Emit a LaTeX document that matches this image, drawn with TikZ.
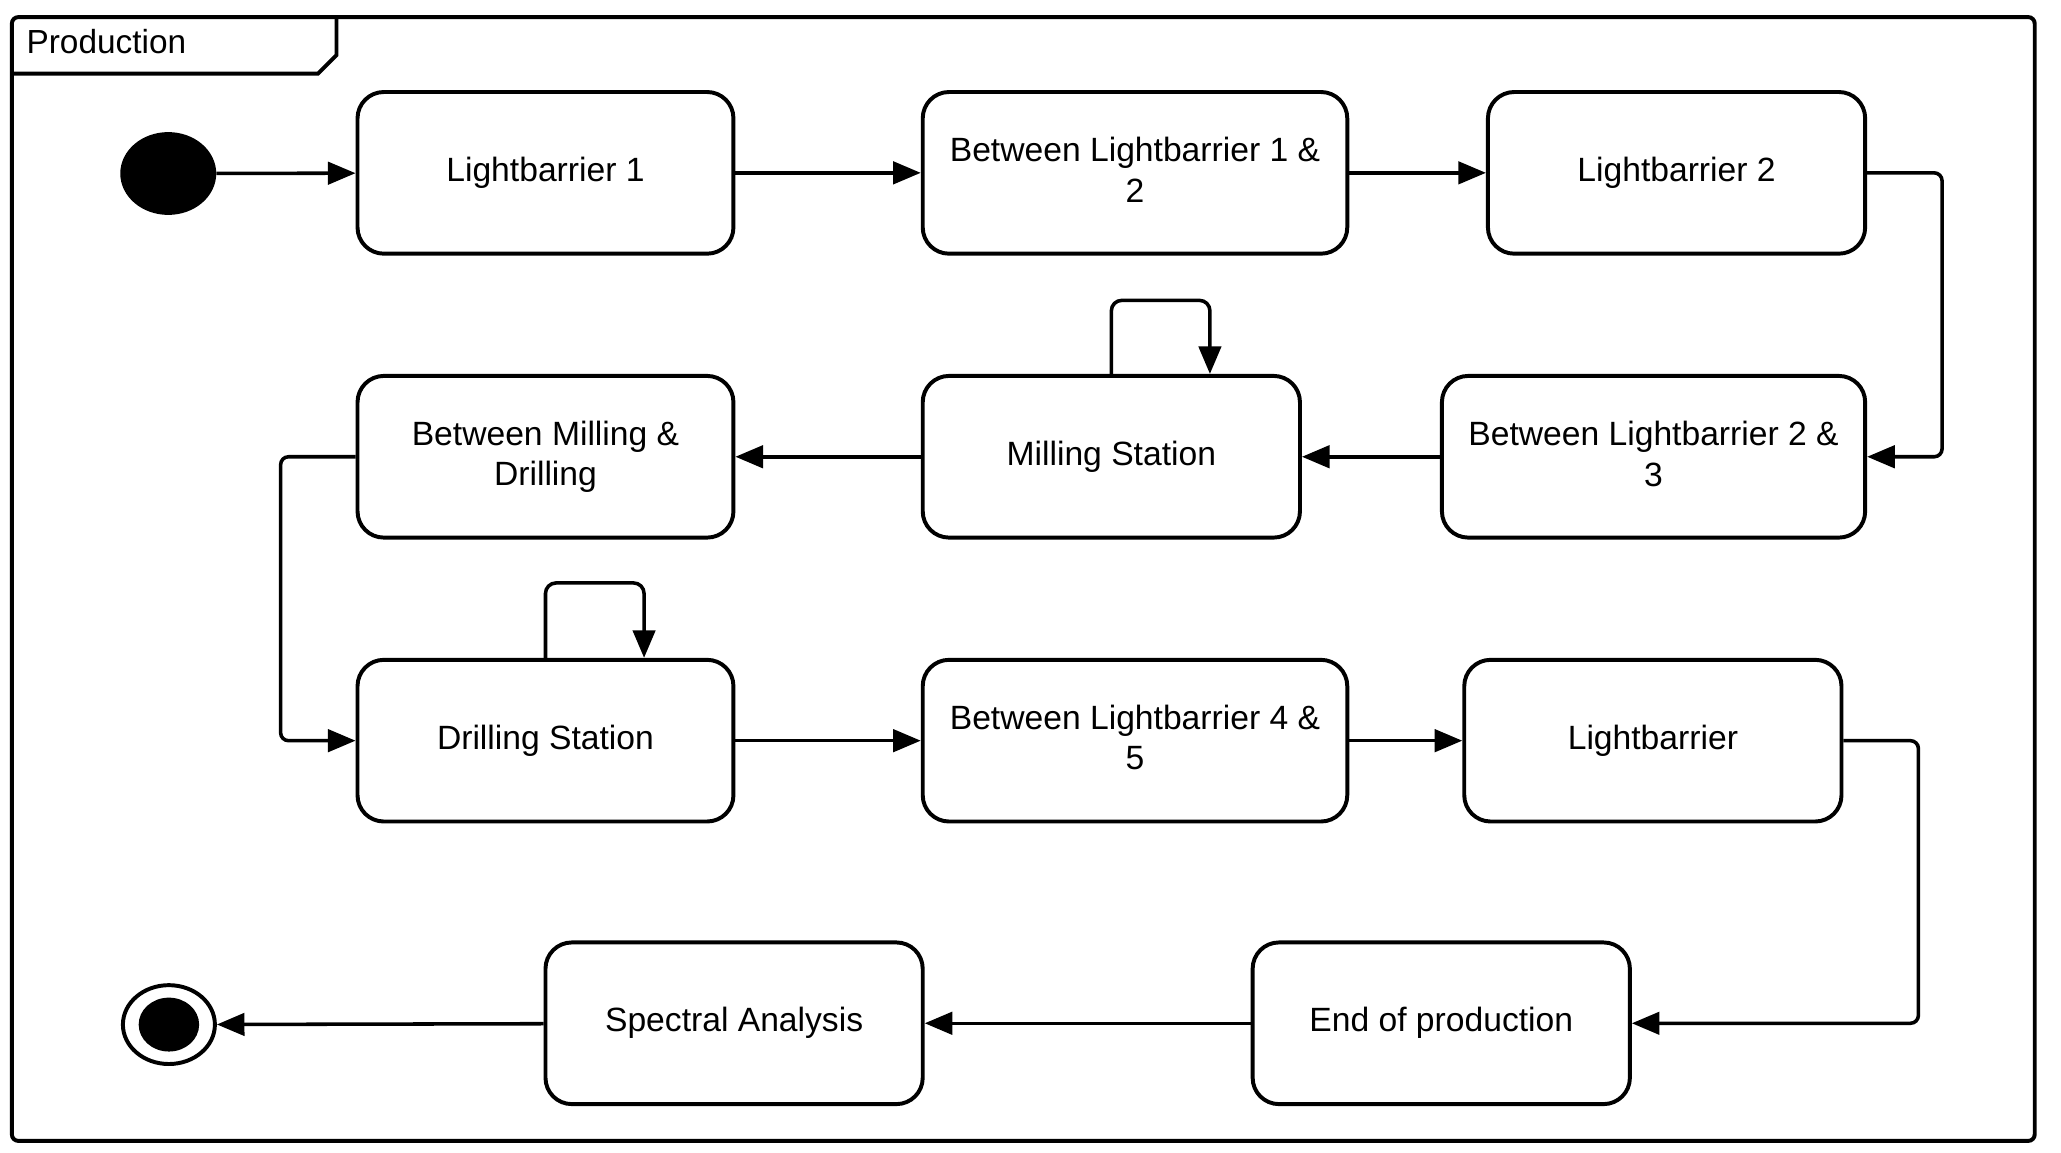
\documentclass[tikz,border=0pt]{standalone}
\usepackage{fontspec}
\setmainfont{Liberation Sans}
\usetikzlibrary{arrows.meta,shapes.geometric}
\tikzset{
  stbox/.style={draw, line width=3pt, rounded corners=20pt, minimum height=123pt,
    align=center, inner sep=0pt, font=\fontsize{25.6}{31}\selectfont},
  conn/.style={line width=2.7pt, rounded corners=6pt,
    -{Triangle[length=21pt,width=17pt]}},
  loopconn/.style={line width=2.7pt, rounded corners=8pt,
    -{Triangle[length=21pt,width=17pt]}},
}
\newcommand{\lowpad}{\rule[-5pt]{0pt}{0pt}}
\begin{document}
\begin{tikzpicture}[x=1pt,y=-1pt]
\useasboundingbox (0,0) rectangle (1568,877);
% frame
\draw[line width=3pt, rounded corners=5pt] (9,13) rectangle (1548,868);
\draw[line width=3pt] (9,56) -- (242,56) -- (256,42) -- (256,13);
\node[anchor=west, inner sep=0pt, font=\fontsize{25.4}{30}\selectfont] (title) at (20,32) {Production};
% initial / final
\node[ellipse, fill=black, minimum width=73pt, minimum height=63pt, inner sep=0pt] (init) at (128,132) {};
\node[ellipse, draw, line width=3pt, minimum width=70pt, minimum height=60pt, inner sep=0pt] (fin) at (128.5,779.5) {};
\node[ellipse, fill=black, minimum width=46pt, minimum height=41pt, inner sep=0pt] (fininner) at (128.5,779.5) {};
% states
\node[stbox, minimum width=286pt] (lb1) at (415,131.5) {Lightbarrier 1};
\node[stbox, minimum width=323pt] (b12) at (863.5,131.5) {Between Lightbarrier 1 \&\\2\lowpad};
\node[stbox, minimum width=287pt] (lb2) at (1275.5,131.5) {Lightbarrier 2};
\node[stbox, minimum width=286pt] (bmd) at (415,347.5) {Between Milling \&\\Drilling\lowpad};
\node[stbox, minimum width=287pt] (mill) at (845.5,347.5) {Milling Station};
\node[stbox, minimum width=322pt] (b23) at (1258,347.5) {Between Lightbarrier 2 \&\\3\lowpad};
\node[stbox, minimum width=286pt] (drill) at (415,563.5) {Drilling Station};
\node[stbox, minimum width=323pt] (b45) at (863.5,563.5) {Between Lightbarrier 4 \&\\5\lowpad};
\node[stbox, minimum width=287pt] (lb) at (1257.5,563.5) {Lightbarrier};
\node[stbox, minimum width=287pt] (spec) at (558.5,778.5) {Spectral Analysis};
\node[stbox, minimum width=287pt] (eop) at (1096.5,778.5) {End of production};
% connectors
\draw[conn] (init) -- (lb1);
\draw[conn] (lb1) -- (b12);
\draw[conn] (b12) -- (lb2);
\draw[conn] (lb2.east) -- ++(57,0) |- (b23.east);
\draw[conn] (b23) -- (mill);
\draw[loopconn] (mill.north) -- ++(0,-56) -| ([xshift=75pt]mill.north);
\draw[conn] (mill) -- (bmd);
\draw[conn] (bmd.west) -- ++(-57,0) |- (drill.west);
\draw[loopconn] (drill.north) -- ++(0,-57) -| ([xshift=75pt]drill.north);
\draw[conn] (drill) -- (b45);
\draw[conn] (b45) -- (lb);
\draw[conn] (lb.east) -- ++(57,0) |- (eop.east);
\draw[conn] (eop) -- (spec);
\draw[conn] (spec) -- (fin);
\end{tikzpicture}
\end{document}
